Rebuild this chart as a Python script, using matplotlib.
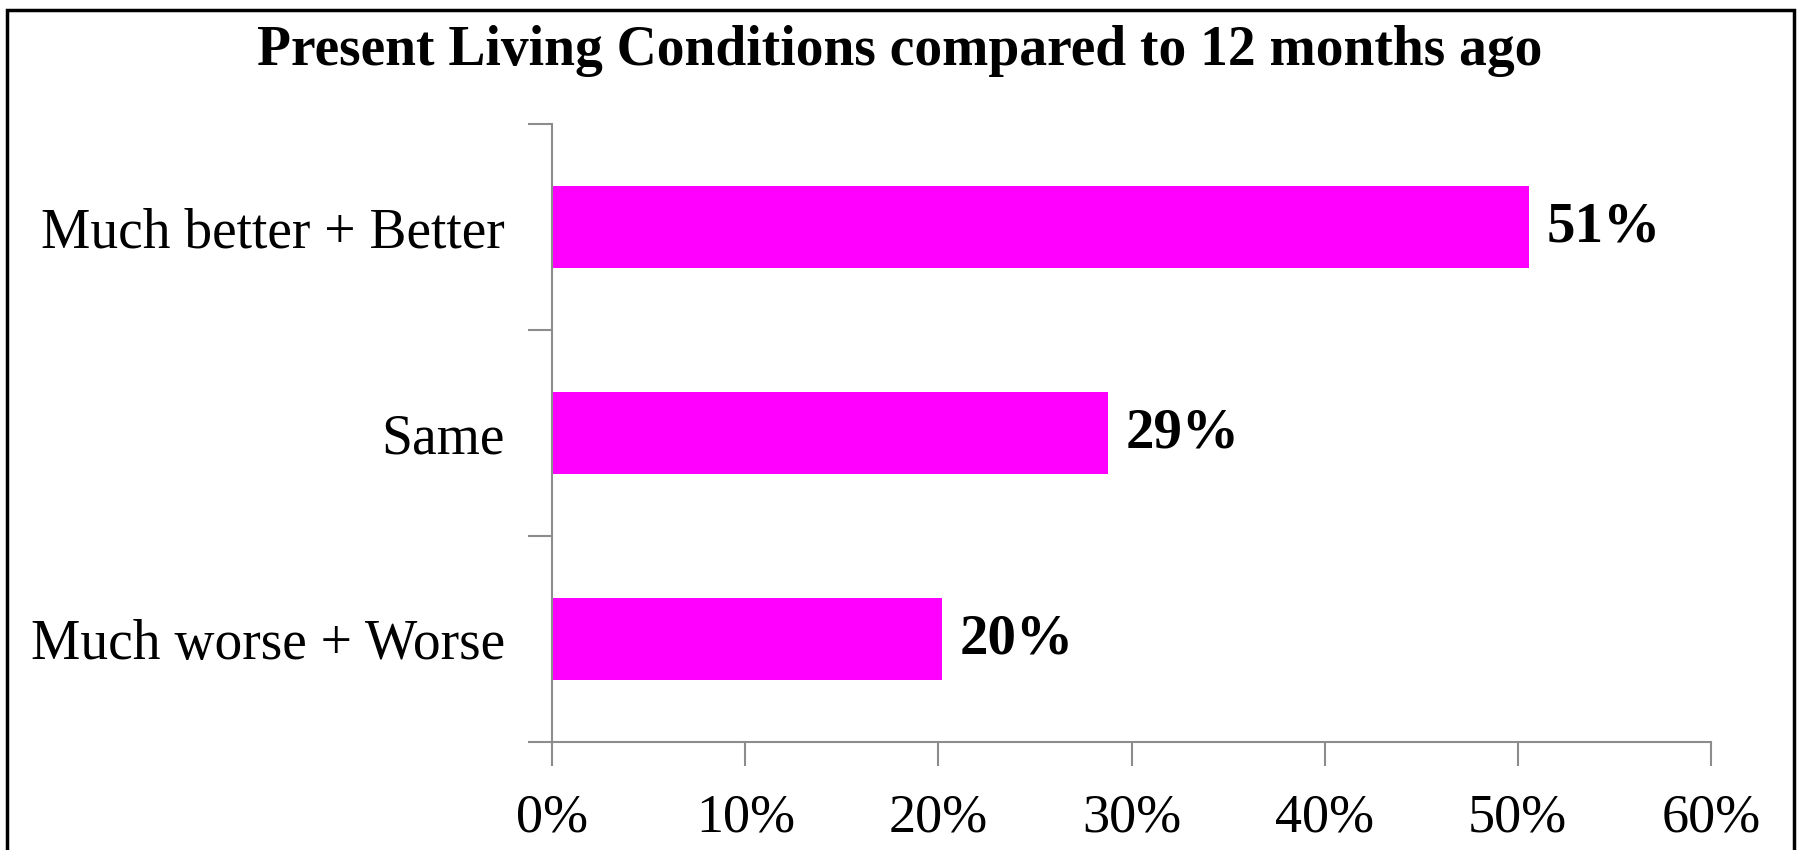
import numpy as np
import matplotlib.pyplot as plt
from matplotlib.patches import Rectangle

categories = ['Much worse + Worse', 'Same', 'Much better + Better']
values = [0.202, 0.288, 0.506]
xticks = [0, 0.1, 0.2, 0.3, 0.4, 0.5, 0.6]
xtick_labels = ['0%', '10%', '20%', '30%', '40%', '50%', '60%']
title = 'Present Living Conditions compared to 12 months ago'

plt.rcParams['font.family'] = ['Liberation Serif', 'DejaVu Serif']

fig = plt.figure(figsize=(17.99, 8.5), dpi=100)
ax = fig.add_axes([0.307, 0.127, 0.644, 0.727])

y = np.arange(len(categories))
ax.barh(y, values, height=0.4, color='#ff00ff')

ax.set_xlim(0, 0.6)
ax.set_ylim(-0.5, len(categories) - 0.5)

ax.set_xticks(xticks)
ax.set_xticklabels(xtick_labels, fontsize=39)
ax.set_yticks(np.arange(len(categories) + 1) - 0.5)
ax.set_yticklabels([])
ax.set_yticks(y, minor=True)
ax.set_yticklabels(categories, minor=True, fontsize=40)
ax.tick_params(axis='y', which='minor', length=0, pad=34)
ax.tick_params(axis='y', which='major', length=17, width=1.5, color='#8c8c8c', direction='out')
ax.tick_params(axis='x', length=17, width=1.5, color='#8c8c8c', direction='out', pad=20)

for s in ['top', 'right']:
    ax.spines[s].set_visible(False)
for s in ['left', 'bottom']:
    ax.spines[s].set_color('#8c8c8c')
    ax.spines[s].set_linewidth(1.5)

for yi, v in zip(y, values):
    ax.text(v + 0.009, yi, f'{v*100:.0f}%', va='center', ha='left',
            fontsize=41, fontweight='bold')

fig.text(0.5, 0.94, title, ha='center', va='center', fontsize=40, fontweight='bold')

# outer frame
fig.patches.append(Rectangle((0.004, -0.05), 0.993, 1.038, transform=fig.transFigure,
                             fill=False, edgecolor='black', linewidth=2.5))

fig.savefig('out.png', dpi=100)
